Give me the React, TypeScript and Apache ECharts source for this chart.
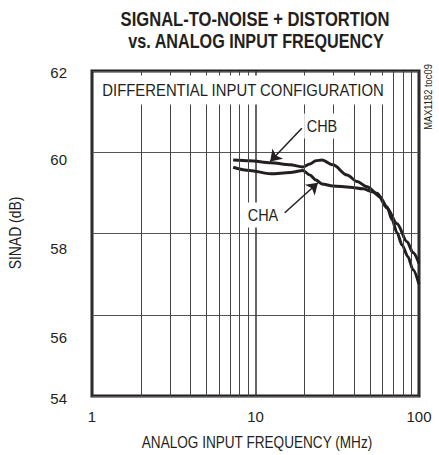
import React, { useEffect, useRef } from "react";
import * as echarts from "echarts";

const chbFreq = [7.3, 9.2, 12.4, 16.3, 19.5, 21.5, 23.4, 25.5, 29.8, 36.3, 41.8, 48.1, 55.4, 63.7, 73.4, 84.5, 91.9, 100];
const chbSinad = [59.81, 59.79, 59.74, 59.69, 59.64, 59.71, 59.79, 59.81, 59.69, 59.44, 59.28, 59.15, 58.99, 58.63, 58.24, 57.8, 57.53, 57.26];

const chaFreq = [7.3, 9.2, 12.4, 16.3, 19.5, 21.5, 23.4, 25.5, 29.8, 37.8, 45.4, 52.3, 57.7, 63.7, 68.4, 73.4, 78.7, 85.6, 91.9, 100];
const chaSinad = [59.63, 59.55, 59.47, 59.5, 59.55, 59.44, 59.32, 59.22, 59.17, 59.14, 59.1, 59.02, 58.9, 58.66, 58.34, 58.02, 57.72, 57.43, 57.11, 56.75];

const minorFreqs = [2, 3, 4, 5, 6, 7, 8, 9, 20, 30, 40, 50, 60, 70, 80, 90];
const yTicks = [54, 56, 58, 60, 62];

// arrow endpoints in data units [freq, dB]
const chbArrow = [[19.2, 60.59], [12.3, 59.77]];
const chaArrow = [[15.1, 58.51], [24.1, 59.25]];

const FONT = "'Liberation Sans', Arial, sans-serif";
const INK = "#231f20";

// vertical label offsets (px) to mimic original label placement
const yLabelShift: Record<number, number> = { 62: 1, 60: 7, 58: 15, 56: 23, 54: 2 };

function txt(text: string, x: number, y: number, size: number, sx: number, extra: any = {}, opts: any = {}) {
  return {
    type: "text",
    z: 50,
    x,
    y,
    scaleX: sx,
    ...opts,
    style: {
      text,
      fontFamily: FONT,
      fontSize: size,
      fill: INK,
      align: "center",
      verticalAlign: "middle",
      ...extra,
    },
  };
}

export default function App() {
  const ref = useRef<HTMLDivElement>(null);
  useEffect(() => {
    if (!ref.current) return;
    const chart = echarts.init(ref.current, null, { renderer: "svg" });
    const rich: Record<string, any> = {};
    yTicks.forEach((t) => {
      rich["o" + t] = {
        fontSize: 15,
        fontFamily: FONT,
        color: INK,
        padding: [yLabelShift[t] * 2, 0, 0, 0],
      };
    });
    chart.setOption({
      animation: false,
      backgroundColor: "#fff",
      grid: {
        left: 92,
        right: 20,
        top: 71,
        bottom: 59,
        show: true,
        borderColor: INK,
        borderWidth: 3,
        backgroundColor: "transparent",
      },
      xAxis: {
        type: "log",
        logBase: 10,
        min: 1,
        max: 100,
        axisLine: { show: false },
        axisTick: { show: false },
        axisLabel: { fontFamily: FONT, fontSize: 15, color: INK, margin: 13 },
        splitLine: { show: true, lineStyle: { color: "#333", width: 1.5 } },
      },
      yAxis: {
        type: "value",
        min: 54,
        max: 62,
        interval: 2,
        axisLine: { show: false },
        axisTick: { show: false },
        axisLabel: {
          margin: 25,
          formatter: (v: number) => `{o${v}|${v}}`,
          rich,
        },
        splitLine: { show: true, lineStyle: { color: "#555", width: 1 } },
      },
      series: [
        {
          name: "grid",
          type: "line",
          data: [],
          z: 1,
          silent: true,
          markLine: {
            silent: true,
            symbol: "none",
            label: { show: false },
            lineStyle: { color: "#444", width: 1, type: "solid" },
            data: minorFreqs.map((f) => ({ xAxis: f })),
          },
        },
        {
          name: "CHB",
          type: "line",
          z: 3,
          showSymbol: false,
          smooth: 0.3,
          smoothMonotone: "x",
          lineStyle: { color: INK, width: 3 },
          data: chbFreq.map((f, i) => [f, chbSinad[i]]),
          markLine: {
            silent: true,
            symbol: ["none", "arrow"],
            symbolSize: 11,
            label: { show: false },
            lineStyle: { color: INK, width: 1.5, type: "solid" },
            data: [
              [{ coord: chbArrow[0] }, { coord: chbArrow[1] }],
              [{ coord: chaArrow[0] }, { coord: chaArrow[1] }],
            ],
          },
        },
        {
          name: "CHA",
          type: "line",
          z: 3,
          showSymbol: false,
          smooth: 0.3,
          smoothMonotone: "x",
          lineStyle: { color: INK, width: 3 },
          data: chaFreq.map((f, i) => [f, chaSinad[i]]),
        },
      ],
      graphic: [
        txt("SIGNAL-TO-NOISE + DISTORTION", 255, 19, 21, 0.79, { fontWeight: "bold" }),
        txt("vs. ANALOG INPUT FREQUENCY", 256, 41, 21, 0.77, { fontWeight: "bold" }),
        txt("DIFFERENTIAL INPUT CONFIGURATION", 243, 90, 17, 0.875, {
          backgroundColor: "#fff",
          padding: [6, 4, 6, 4],
        }),
        txt("CHB", 322, 126, 17, 0.85, { backgroundColor: "#fff", padding: [4, 3, 4, 3] }),
        txt("CHA", 263, 215, 17, 0.85, { backgroundColor: "#fff", padding: [4, 3, 4, 3] }),
        txt("ANALOG INPUT FREQUENCY (MHz)", 257, 443, 16, 0.85),
        txt("SINAD (dB)", 15, 233, 16, 0.87, {}, { rotation: Math.PI / 2 }),
        txt("MAX1182 toc09", 428, 97, 11, 0.85, {}, { rotation: Math.PI / 2 }),
      ],
    });
    return () => chart.dispose();
  }, []);
  return <div ref={ref} style={{ position: "absolute", left: 0, top: 0, width: 439, height: 455 }} />;
}
